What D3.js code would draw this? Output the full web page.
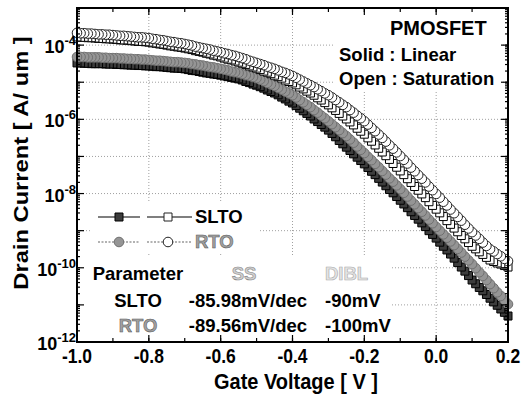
<!DOCTYPE html>
<html>
<head>
<meta charset="utf-8">
<script src="https://cdn.jsdelivr.net/npm/d3@7"></script>
<style>
  body { margin: 0; background: #fff; }
  svg text { font-family: "Liberation Sans", Arial, sans-serif; font-weight: bold; }
</style>
</head>
<body>
<svg id="chart" width="528" height="401"></svg>
<script>
/* Gate voltage sweep (V), 10 mV steps from -1.0 to 0.2 */
const gateStart = -1.0;
const gateStep = 0.01;
const gateVoltage = d3.range(121).map(i => +(gateStart + i * gateStep).toFixed(2));

/* log10 of drain current [A/um] */
const sltoLinLog = [
  -4.48,-4.48,-4.49,-4.49,-4.50, -4.50,-4.50,-4.50,-4.51,-4.51,
  -4.51,-4.52,-4.52,-4.53,-4.53, -4.54,-4.54,-4.55,-4.55,-4.56,
  -4.56,-4.57,-4.58,-4.58,-4.59, -4.60,-4.61,-4.62,-4.62,-4.63,
  -4.64,-4.66,-4.68,-4.69,-4.71, -4.73,-4.75,-4.76,-4.78,-4.79,
  -4.81,-4.83,-4.85,-4.87,-4.89, -4.91,-4.94,-4.98,-5.01,-5.05,
  -5.08,-5.12,-5.16,-5.21,-5.25, -5.29,-5.34,-5.40,-5.45,-5.51,
  -5.56,-5.63,-5.70,-5.77,-5.84, -5.91,-5.99,-6.06,-6.14,-6.21,
  -6.29,-6.38,-6.47,-6.57,-6.66, -6.75,-6.84,-6.93,-7.02,-7.11,
  -7.20,-7.30,-7.40,-7.49,-7.59, -7.69,-7.79,-7.89,-7.98,-8.08,
  -8.18,-8.28,-8.38,-8.49,-8.59, -8.69,-8.79,-8.89,-9.00,-9.10,
  -9.20,-9.31,-9.42,-9.52,-9.63, -9.74,-9.86,-9.98,-10.09,-10.21,
  -10.33,-10.43,-10.53,-10.62,-10.72, -10.82,-10.92,-11.01,-11.11,-11.20,
  -11.30
];
const rtoLinLog = [
  -4.32,-4.32,-4.32,-4.33,-4.33, -4.33,-4.33,-4.34,-4.34,-4.35,
  -4.35,-4.35,-4.36,-4.36,-4.37, -4.37,-4.38,-4.38,-4.39,-4.39,
  -4.40,-4.41,-4.42,-4.42,-4.43, -4.44,-4.45,-4.46,-4.46,-4.47,
  -4.48,-4.49,-4.51,-4.52,-4.54, -4.55,-4.57,-4.59,-4.60,-4.62,
  -4.64,-4.66,-4.68,-4.71,-4.73, -4.75,-4.78,-4.81,-4.83,-4.86,
  -4.89,-4.93,-4.97,-5.02,-5.06, -5.10,-5.15,-5.20,-5.25,-5.30,
  -5.35,-5.41,-5.48,-5.54,-5.61, -5.67,-5.75,-5.82,-5.90,-5.97,
  -6.05,-6.13,-6.21,-6.29,-6.37, -6.45,-6.54,-6.63,-6.73,-6.82,
  -6.91,-7.01,-7.10,-7.20,-7.29, -7.39,-7.49,-7.59,-7.68,-7.78,
  -7.88,-7.98,-8.08,-8.19,-8.29, -8.39,-8.49,-8.59,-8.70,-8.80,
  -8.90,-9.00,-9.10,-9.19,-9.29, -9.39,-9.49,-9.59,-9.70,-9.80,
  -9.90,-10.01,-10.12,-10.22,-10.33, -10.44,-10.55,-10.66,-10.76,-10.87,
  -10.98
];
const sltoSatLog = [
  -3.78,-3.79,-3.79,-3.80,-3.80, -3.81,-3.82,-3.82,-3.83,-3.83,
  -3.84,-3.85,-3.86,-3.86,-3.87, -3.88,-3.89,-3.90,-3.90,-3.91,
  -3.92,-3.94,-3.95,-3.97,-3.98, -4.00,-4.02,-4.03,-4.05,-4.06,
  -4.08,-4.10,-4.12,-4.15,-4.17, -4.19,-4.22,-4.24,-4.27,-4.29,
  -4.32,-4.35,-4.38,-4.40,-4.43, -4.46,-4.49,-4.52,-4.56,-4.59,
  -4.62,-4.66,-4.70,-4.73,-4.77, -4.81,-4.85,-4.89,-4.94,-4.98,
  -5.02,-5.07,-5.13,-5.18,-5.24, -5.29,-5.35,-5.42,-5.48,-5.55,
  -5.61,-5.69,-5.76,-5.84,-5.91, -5.99,-6.07,-6.15,-6.24,-6.32,
  -6.40,-6.50,-6.59,-6.69,-6.78, -6.88,-6.98,-7.08,-7.19,-7.29,
  -7.39,-7.49,-7.60,-7.70,-7.81, -7.91,-8.01,-8.11,-8.22,-8.32,
  -8.42,-8.52,-8.62,-8.73,-8.83, -8.93,-9.03,-9.13,-9.22,-9.32,
  -9.42,-9.49,-9.57,-9.64,-9.72, -9.79,-9.83,-9.87,-9.90,-9.94,
  -9.98
];
const rtoSatLog = [
  -3.67,-3.68,-3.68,-3.69,-3.69, -3.70,-3.71,-3.71,-3.72,-3.72,
  -3.73,-3.74,-3.75,-3.75,-3.76, -3.77,-3.78,-3.79,-3.79,-3.80,
  -3.81,-3.83,-3.84,-3.86,-3.87, -3.89,-3.91,-3.92,-3.94,-3.95,
  -3.97,-3.99,-4.01,-4.04,-4.06, -4.08,-4.10,-4.12,-4.15,-4.17,
  -4.19,-4.22,-4.24,-4.27,-4.29, -4.32,-4.35,-4.38,-4.42,-4.45,
  -4.48,-4.51,-4.54,-4.58,-4.61, -4.64,-4.68,-4.72,-4.75,-4.79,
  -4.83,-4.88,-4.93,-4.98,-5.03, -5.08,-5.13,-5.19,-5.24,-5.30,
  -5.35,-5.41,-5.48,-5.54,-5.61, -5.67,-5.75,-5.82,-5.90,-5.97,
  -6.05,-6.14,-6.23,-6.32,-6.41, -6.50,-6.60,-6.70,-6.79,-6.89,
  -6.99,-7.09,-7.19,-7.30,-7.40, -7.50,-7.60,-7.70,-7.81,-7.91,
  -8.01,-8.11,-8.22,-8.32,-8.43, -8.53,-8.63,-8.73,-8.84,-8.94,
  -9.04,-9.13,-9.22,-9.32,-9.41, -9.50,-9.56,-9.63,-9.69,-9.76,
  -9.82
];

/* axis ticks */
const xTickValues = [-1.0, -0.8, -0.6, -0.4, -0.2, 0.0, 0.2];
const xGridValues = [-0.8, -0.6, -0.4, -0.2, 0.0];
const yTickExps = [-12, -10, -8, -6, -4];
const yGridExps = [-11, -10, -9, -8, -7, -6, -5, -4];

/* legend + parameter table */
const legendNames = ["SLTO", "RTO"];
const tableHeader = ["Parameter", "SS", "DIBL"];
const tableNames = ["SLTO", "RTO"];
const ssValues = ["-85.98mV/dec", "-89.56mV/dec"];
const diblValues = ["-90mV", "-100mV"];
const noteLines = ["PMOSFET", "Solid : Linear", "Open : Saturation"];

const svg = d3.select("#chart");
const plotLeft = 77, plotRight = 508, plotTop = 8, plotBottom = 342;

var x = d3.scaleLinear().domain([-1.0, 0.2]).range([plotLeft, plotRight]);
var y = d3.scaleLog().domain([1e-12, 1e-3]).range([plotBottom, plotTop]);

/* dotted grid */
svg.append("g").selectAll("line").data(xGridValues).enter().append("line")
    .attr("x1", d => x(d)).attr("x2", d => x(d))
    .attr("y1", plotTop).attr("y2", plotBottom)
    .attr("stroke", "#888").attr("stroke-width", 0.8).attr("stroke-dasharray", "1,2");
svg.append("g").selectAll("line").data(yGridExps).enter().append("line")
    .attr("x1", plotLeft).attr("x2", plotRight)
    .attr("y1", d => y(Math.pow(10, d))).attr("y2", d => y(Math.pow(10, d)))
    .attr("stroke", "#888").attr("stroke-width", 0.8).attr("stroke-dasharray", "1,2");

/* white boxes behind the annotations hide the grid */
const boxes = [[334, 12, 168, 80], [92, 202, 166, 50], [80, 256, 312, 84]];
svg.append("g").selectAll("rect").data(boxes).enter().append("rect")
    .attr("x", d => d[0]).attr("y", d => d[1]).attr("width", d => d[2]).attr("height", d => d[3])
    .attr("fill", "#fff");

/* curves: markers drawn from the right end back to -1.0 V */
function drawSeries(logValues, shape, fill, stroke) {
    const pts = gateVoltage.map((v, i) => ({ v: v, I: Math.pow(10, logValues[i]) })).reverse();
    const sym = d3.symbol().type(shape).size(shape === d3.symbolSquare ? 64 : 72);
    svg.append("g").selectAll("path").data(pts).enter().append("path")
        .attr("d", sym)
        .attr("transform", d => "translate(" + x(d.v) + "," + y(d.I) + ")")
        .attr("fill", fill)
        .attr("stroke", stroke)
        .attr("stroke-width", 1);
}
drawSeries(sltoLinLog, d3.symbolSquare, "#3c3c3c", "#000");
drawSeries(rtoLinLog, d3.symbolCircle, "#959595", "#707070");
drawSeries(sltoSatLog, d3.symbolSquare, "#fff", "#000");
drawSeries(rtoSatLog, d3.symbolCircle, "#fff", "#222");

/* axes with inward ticks on all four sides */
const minorX = x.ticks(12);
const minorY = y.ticks();

function tickLines(cls, data, x1, y1, x2, y2) {
    svg.append("g").attr("class", cls).selectAll("line").data(data).enter().append("line")
        .attr("x1", x1).attr("y1", y1).attr("x2", x2).attr("y2", y2)
        .attr("stroke", "#000").attr("stroke-width", 1.2);
}
tickLines("xMinor", minorX, d => x(d), plotBottom, d => x(d), plotBottom - 4);
tickLines("xMinorTop", minorX, d => x(d), plotTop, d => x(d), plotTop + 4);
tickLines("xMajor", xTickValues, d => x(d), plotBottom, d => x(d), plotBottom - 7);
tickLines("xMajorTop", xTickValues, d => x(d), plotTop, d => x(d), plotTop + 7);
tickLines("yMinor", minorY, plotLeft, d => y(d), plotLeft + 3, d => y(d));
tickLines("yMinorR", minorY, plotRight, d => y(d), plotRight - 3, d => y(d));
tickLines("yMajor", yGridExps.concat([-12, -3]), plotLeft, d => y(Math.pow(10, d)), plotLeft + 7, d => y(Math.pow(10, d)));
tickLines("yMajorR", yGridExps.concat([-12, -3]), plotRight, d => y(Math.pow(10, d)), plotRight - 7, d => y(Math.pow(10, d)));

svg.append("rect")
    .attr("x", plotLeft).attr("y", plotTop)
    .attr("width", plotRight - plotLeft).attr("height", plotBottom - plotTop)
    .attr("fill", "none").attr("stroke", "#000").attr("stroke-width", 2);

/* x tick labels (scan text is a bit taller than wide) */
svg.append("g").selectAll("text").data(xTickValues).enter().append("text")
    .attr("transform", d => "translate(" + x(d) + ",363) scale(1,1.12)")
    .attr("text-anchor", "middle")
    .style("font-size", "17.5px")
    .text(d => d.toFixed(1));

/* y tick labels: 10^n */
const yLabels = svg.append("g").selectAll("text").data(yTickExps).enter().append("text")
    .attr("x", 76).attr("y", d => y(Math.pow(10, d)) + 8)
    .attr("text-anchor", "end")
    .style("font-size", "18px");
yLabels.append("tspan").text("10");
yLabels.append("tspan").attr("dy", -8).style("font-size", "13px").text(d => d);

/* axis titles */
svg.append("text")
    .attr("transform", "translate(296,389) scale(1,1.08)")
    .attr("text-anchor", "middle")
    .style("font-size", "20px")
    .text("Gate Voltage [ V ]");

svg.append("text")
    .attr("transform", "translate(28,163) rotate(-90) scale(1.13,1)")
    .attr("text-anchor", "middle")
    .style("font-size", "21px")
    .text("Drain Current [ A/ um ]");

/* annotation in top right */
svg.append("text").attr("x", 390).attr("y", 35).style("font-size", "20px").text(noteLines[0]);
svg.append("text").attr("x", 339).attr("y", 61).style("font-size", "18.5px").text(noteLines[1]);
svg.append("text").attr("x", 339).attr("y", 85).style("font-size", "18.5px").text(noteLines[2]);

/* legend */
const legendRows = [
    { name: legendNames[0], y: 217, dash: null, lineColor: "#000", solid: ["#3c3c3c", "#000"], shape: d3.symbolSquare, textFill: "#000", textStroke: "none" },
    { name: legendNames[1], y: 242, dash: "2,1.5", lineColor: "#666", solid: ["#959595", "#707070"], shape: d3.symbolCircle, textFill: "#a0a0a0", textStroke: "#555" }
];
legendRows.forEach(row => {
    const g = svg.append("g");
    [[98, 140], [147, 192]].forEach(seg => {
        g.append("line")
            .attr("x1", seg[0]).attr("x2", seg[1]).attr("y1", row.y).attr("y2", row.y)
            .attr("stroke", row.lineColor).attr("stroke-width", 1.2)
            .attr("stroke-dasharray", row.dash);
    });
    const sym = d3.symbol().type(row.shape).size(row.shape === d3.symbolSquare ? 64 : 72);
    g.append("path").attr("d", sym).attr("transform", "translate(119," + row.y + ")")
        .attr("fill", row.solid[0]).attr("stroke", row.solid[1]);
    g.append("path").attr("d", sym).attr("transform", "translate(168," + row.y + ")")
        .attr("fill", "#fff").attr("stroke", "#222");
    g.append("text")
        .attr("x", 195).attr("y", row.y + 6)
        .style("font-size", "18.5px")
        .attr("fill", row.textFill).attr("stroke", row.textStroke).attr("stroke-width", 0.5)
        .text(row.name);
});

/* parameter table */
svg.append("text").attr("x", 138).attr("y", 280).attr("text-anchor", "middle")
    .style("font-size", "18.5px").text(tableHeader[0]);
svg.append("text").attr("x", 244).attr("y", 280).attr("text-anchor", "middle")
    .style("font-size", "18.5px").attr("fill", "#d0d0d0").attr("stroke", "#888").attr("stroke-width", 0.6)
    .text(tableHeader[1]);
svg.append("text").attr("x", 325).attr("y", 280)
    .style("font-size", "18.5px").attr("fill", "#e4e4e4").attr("stroke", "#aaa").attr("stroke-width", 0.6)
    .text(tableHeader[2]);

const rowY = [307, 332];
tableNames.forEach((name, i) => {
    const isRto = i === 1;
    svg.append("text").attr("x", 138).attr("y", rowY[i]).attr("text-anchor", "middle")
        .style("font-size", "18.5px")
        .attr("fill", isRto ? "#a0a0a0" : "#000").attr("stroke", isRto ? "#555" : "none").attr("stroke-width", 0.5)
        .text(name);
    svg.append("text").attr("x", 248).attr("y", rowY[i]).attr("text-anchor", "middle")
        .style("font-size", "18.5px").text(ssValues[i]);
    svg.append("text").attr("x", 325).attr("y", rowY[i])
        .style("font-size", "18.5px").text(diblValues[i]);
});
</script>
</body>
</html>
